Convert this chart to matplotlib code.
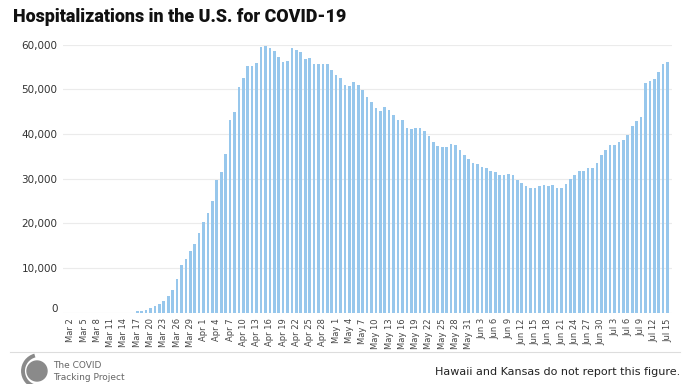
import numpy as np
import pandas as pd
import matplotlib.pyplot as plt
import matplotlib.patches as mpatches
import matplotlib.transforms as mtrans
from matplotlib.lines import Line2D

# daily currently-hospitalized counts, Mar 2 - Jul 15 2020
dates = pd.date_range('2020-03-02', '2020-07-15', freq='D')

march = [0, 0, 0, 0, 0, 0, 0, 0, 0, 0, 0, 0, 0, 0, 0,
         325, 420, 620, 1040, 1400, 1900, 2600, 3750, 4950, 7450,
         10600, 11950, 13700, 15400, 17800]
april = [20200, 22300, 24950, 29750, 31550, 35550, 43200, 45000, 50500, 52450,
         55300, 55150, 55900, 59450, 59600, 59200, 58600, 57250, 56200, 56350,
         59300, 58750, 58450, 56800, 56950, 55750, 55700, 55750, 55600, 54400]
may = [53300, 52550, 51050, 50800, 51550, 50950, 49900, 48300, 47100, 45750,
       45150, 46050, 45450, 44250, 43050, 43050, 41400, 41100, 41350, 41250,
       40650, 39450, 38300, 37400, 37200, 37200, 37700, 37500, 36500, 35300,
       34400]
june = [33600, 33300, 32700, 32400, 31800, 31400, 30900, 30800, 31100, 30800,
        29600, 29100, 28400, 27900, 27900, 28400, 28500, 28400, 28500, 27900,
        27900, 28800, 30000, 30900, 31800, 31700, 32400, 32400, 33600, 35300]
july = [36500, 37500, 37600, 38100, 38700, 39800, 41700, 43000, 43800, 51500,
        51900, 52400, 53900, 55600, 56200]

hospitalized = march + april + may + june + july
yticks = [0, 10000, 20000, 30000, 40000, 50000, 60000]

title = 'Hospitalizations in the U.S. for COVID-19'
note = 'Hawaii and Kansas do not report this figure.'

W, H = 688, 384
fig = plt.figure(figsize=(W / 100, H / 100), dpi=100)
ax = fig.add_axes([63 / W, 1 - 312.6 / H, (672 - 63) / W, (312.6 - 44.7) / H])

x = np.arange(len(hospitalized))
ax.bar(x, hospitalized, width=0.6, color='#97c7ec', zorder=2)

ax.set_xlim(-1.8, 136)
ax.set_ylim(0, 60000)
ax.set_yticks(yticks)
ax.set_yticklabels([f'{v:,}' for v in yticks])
ax.set_xticks(x[::3])
ax.set_xticklabels([f'{d:%b} {d.day}' for d in dates[::3]], rotation=90)

ax.grid(axis='y', color='#ebebeb', linewidth=0.8, zorder=0)
ax.set_axisbelow(True)
for s in ax.spines.values():
    s.set_visible(False)
ax.tick_params(axis='y', length=0, pad=4, labelsize=7.5, labelcolor='#333333')
ax.tick_params(axis='x', length=0, pad=4, labelsize=6, labelcolor='#444444')

# the zero label sits a bit above its gridline
zero_lbl = ax.get_yticklabels()[0]
zero_lbl.set_transform(zero_lbl.get_transform() +
                       mtrans.ScaledTranslation(0, 5 / 100, fig.dpi_scale_trans))

# title
fig.text(13 / W, 1 - 17 / H, title, fontsize=12.9, fontweight='black',
         family='Roboto', color='#111111', va='center', ha='left')

# footer
fig.add_artist(Line2D([10 / W, 680 / W], [1 - 352 / H] * 2, color='#dddddd', lw=0.8))
fig.add_artist(mpatches.Circle((37 / 100, (H - 371) / 100), 0.10,
                               transform=fig.dpi_scale_trans, color='#8a8a8a'))
fig.add_artist(mpatches.Arc((39 / 100, (H - 371) / 100), 0.32, 0.32, theta1=105, theta2=255,
                            transform=fig.dpi_scale_trans, color='#8a8a8a', lw=2.8))
fig.text(53 / W, 1 - 366 / H, 'The COVID', fontsize=6.5, color='#666666', va='center')
fig.text(53 / W, 1 - 377 / H, 'Tracking Project', fontsize=6.5, color='#666666', va='center')
fig.text(680 / W, 1 - 372 / H, note, fontsize=8, color='#222222', va='center', ha='right')

fig.savefig('out.png', dpi=100)
